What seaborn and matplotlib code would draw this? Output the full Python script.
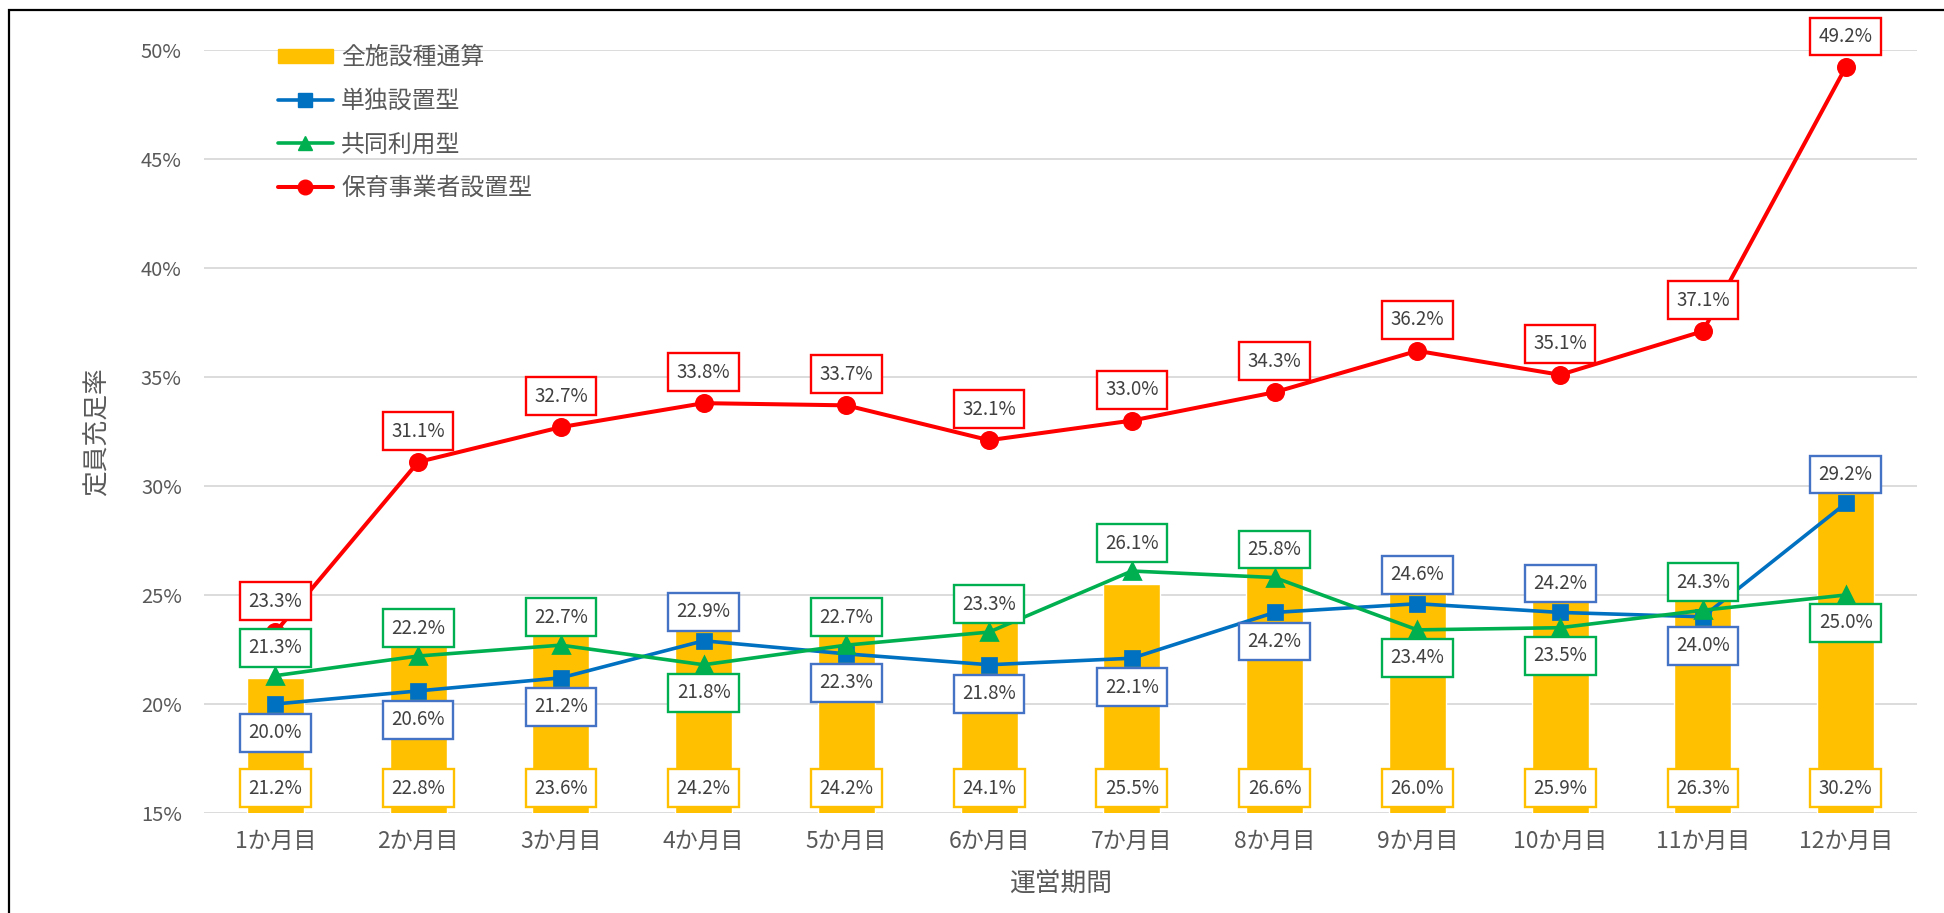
import matplotlib
matplotlib.use("Agg")
import matplotlib.pyplot as plt
import matplotlib.patches as mpatches
from matplotlib.lines import Line2D
import seaborn as sns
import pandas as pd

# ---- data ----
months = ["1か月目", "2か月目", "3か月目", "4か月目", "5か月目", "6か月目",
          "7か月目", "8か月目", "9か月目", "10か月目", "11か月目", "12か月目"]
all_types = [21.2, 22.8, 23.6, 24.2, 24.2, 24.1, 25.5, 26.6, 26.0, 25.9, 26.3, 30.2]
single = [20.0, 20.6, 21.2, 22.9, 22.3, 21.8, 22.1, 24.2, 24.6, 24.2, 24.0, 29.2]
shared = [21.3, 22.2, 22.7, 21.8, 22.7, 23.3, 26.1, 25.8, 23.4, 23.5, 24.3, 25.0]
operator = [23.3, 31.1, 32.7, 33.8, 33.7, 32.1, 33.0, 34.3, 36.2, 35.1, 37.1, 49.2]
series_names = ["全施設種通算", "単独設置型", "共同利用型", "保育事業者設置型"]
yticks = [15, 20, 25, 30, 35, 40, 45, 50]

# label placement (style): +1 above, -1 below
single_side = [-1, -1, -1, 1, -1, -1, -1, -1, 1, 1, -1, 1]
shared_side = [1, 1, 1, -1, 1, 1, 1, 1, -1, -1, 1, -1]

C_BAR = "#FFC000"
C_BLUE = "#0070C0"
C_GREEN = "#00B050"
C_RED = "#FF0000"
C_BLUE_EDGE = "#4472C4"
TXT = "#595959"
LBL = "#404040"

sns.set_theme(style="white")
plt.rcParams["font.family"] = ["Noto Sans CJK JP", "DejaVu Sans"]

fig = plt.figure(figsize=(19.44, 9.13), dpi=100)
ax = fig.add_axes([204 / 1944, 1 - 813 / 913, 1713 / 1944, 763 / 913])

df = pd.DataFrame({"month": months, "all": all_types, "single": single,
                   "shared": shared, "operator": operator})

sns.barplot(data=df, x="month", y="all", color=C_BAR, saturation=1, width=0.4,
            ax=ax, zorder=2)
sns.pointplot(data=df, x="month", y="single", color=C_BLUE, marker="s",
              markersize=10.5, linewidth=2.6, errorbar=None, ax=ax)
sns.pointplot(data=df, x="month", y="shared", color=C_GREEN, marker="^",
              markersize=11.5, linewidth=2.6, errorbar=None, ax=ax)
sns.pointplot(data=df, x="month", y="operator", color=C_RED, marker="o",
              markersize=11.5, linewidth=2.9, errorbar=None, ax=ax)
for ln in ax.lines:
    ln.set_zorder(4)

ax.set_ylim(15, 50)
ax.set_xlim(-0.5, len(months) - 0.5)
ax.set_yticks(yticks)
ax.set_yticklabels([f"{t}%" for t in yticks], fontsize=14.5, color=TXT)
ax.set_xticks(range(len(months)))
ax.set_xticklabels(months, fontsize=16.5, color=TXT)
ax.tick_params(axis="y", length=0, pad=16)
ax.tick_params(axis="x", length=0, pad=12)
ax.grid(axis="y", color="#D9D9D9", linewidth=1.3, zorder=0)
ax.set_axisbelow(True)
for s in ax.spines.values():
    s.set_visible(False)

ax.set_xlabel("運営期間", fontsize=18.5, color=TXT, labelpad=14)
ax.set_ylabel("定員充足率", fontsize=18.5, color=TXT, labelpad=22)


def box_label(x, y, val, edge, dy):
    ax.annotate(f"{val:.1f}%", xy=(x, y), xytext=(0, dy), textcoords="offset pixels",
                ha="center", va="center", fontsize=13.5, color=LBL, zorder=6,
                bbox=dict(boxstyle="square,pad=0.45", fc="white", ec=edge, lw=1.7))


for i in range(len(months)):
    # bar labels near the base
    box_label(i, 15, all_types[i], C_BAR, 25)
    box_label(i, operator[i], operator[i], C_RED, 31)
    box_label(i, single[i], single[i], C_BLUE_EDGE, 29 * single_side[i])
    box_label(i, shared[i], shared[i], C_GREEN, 28 * shared_side[i])

handles = [
    mpatches.Patch(color=C_BAR),
    Line2D([], [], color=C_BLUE, lw=2.6, marker="s", markersize=9.5),
    Line2D([], [], color=C_GREEN, lw=2.6, marker="^", markersize=10.5),
    Line2D([], [], color=C_RED, lw=2.9, marker="o", markersize=10.5),
]
leg = ax.legend(handles, series_names, loc="upper left",
                bbox_to_anchor=(0.043, 1.005), frameon=False, fontsize=17.2,
                handlelength=2.3, handleheight=0.55, handletextpad=0.35,
                labelspacing=0.86, borderaxespad=0, borderpad=0)
for t in leg.get_texts():
    t.set_color(TXT)

# outer frame (chart-area border)
fig.patches.append(mpatches.Rectangle((9 / 1944, -0.2), 2.0, 1.2 - 10 / 913,
                                      transform=fig.transFigure, fill=False,
                                      ec="black", lw=1.6, zorder=10))

fig.savefig("out.png", dpi=100)
